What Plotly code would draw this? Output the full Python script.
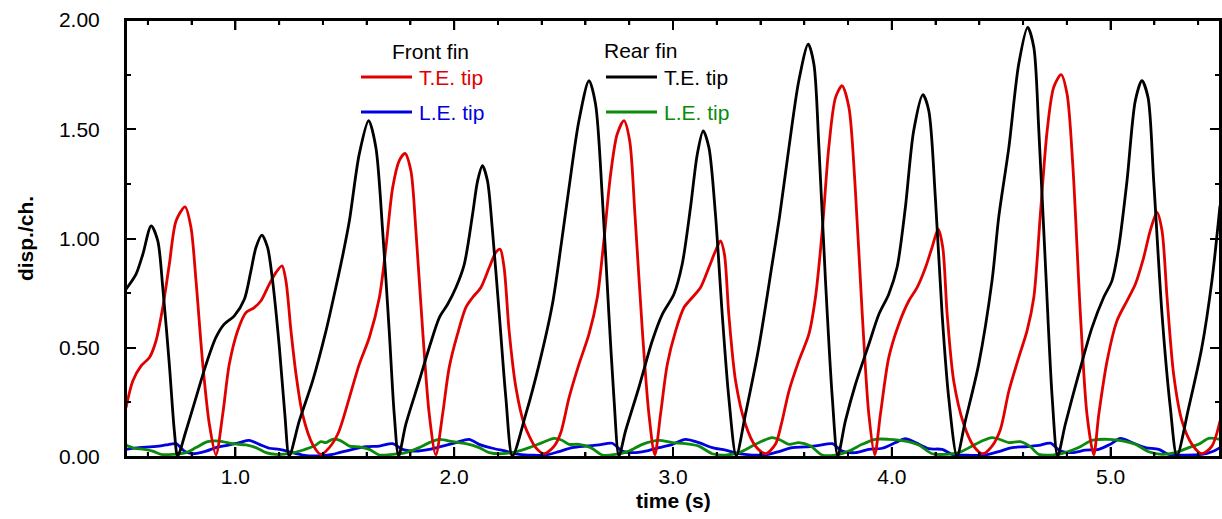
import plotly.graph_objects as go

# ---- Rear fin, trailing-edge tip (black) ----
rear_te_t = [0.500, 0.546, 0.577, 0.615, 0.645, 0.668, 0.698, 0.721, 0.736, 0.774, 0.820, 0.866, 0.911, 0.949,
             0.995, 1.041, 1.071, 1.094, 1.121, 1.147, 1.170, 1.201, 1.226, 1.246, 1.292, 1.353, 1.414, 1.459,
             1.490, 1.521, 1.566, 1.609, 1.642, 1.673, 1.703, 1.726, 1.746, 1.779, 1.840, 1.886, 1.932, 1.970,
             2.008, 2.046, 2.084, 2.107, 2.129, 2.152, 2.175, 2.206, 2.236, 2.266, 2.327, 2.388, 2.449, 2.490,
             2.525, 2.570, 2.616, 2.646, 2.677, 2.707, 2.730, 2.753, 2.783, 2.844, 2.905, 2.951, 3.004, 3.042,
             3.080, 3.111, 3.138, 3.164, 3.194, 3.225, 3.255, 3.289, 3.331, 3.392, 3.453, 3.487, 3.530, 3.575,
             3.618, 3.644, 3.667, 3.697, 3.728, 3.753, 3.788, 3.834, 3.895, 3.941, 3.986, 4.024, 4.062, 4.100,
             4.142, 4.169, 4.199, 4.230, 4.260, 4.298, 4.336, 4.397, 4.458, 4.489, 4.535, 4.580, 4.621, 4.649,
             4.672, 4.702, 4.733, 4.758, 4.793, 4.854, 4.915, 4.968, 5.006, 5.037, 5.075, 5.113, 5.143, 5.171,
             5.197, 5.235, 5.273, 5.303, 5.357, 5.417, 5.463, 5.500]
rear_te_d = [0.768, 0.837, 0.928, 1.058, 0.990, 0.776, 0.424, 0.119, 0.005, 0.119, 0.272, 0.424, 0.547, 0.608,
             0.646, 0.722, 0.852, 0.959, 1.015, 0.959, 0.806, 0.501, 0.195, 0.005, 0.165, 0.348, 0.577, 0.776,
             0.920, 1.081, 1.386, 1.539, 1.417, 1.035, 0.577, 0.195, 0.005, 0.150, 0.348, 0.501, 0.638, 0.699,
             0.776, 0.882, 1.111, 1.264, 1.333, 1.264, 1.035, 0.653, 0.272, 0.005, 0.195, 0.424, 0.700, 0.980,
             1.234, 1.539, 1.722, 1.615, 1.188, 0.653, 0.272, 0.005, 0.119, 0.318, 0.531, 0.653, 0.745, 0.882,
             1.142, 1.386, 1.493, 1.417, 1.111, 0.653, 0.272, 0.005, 0.195, 0.501, 0.882, 1.100, 1.417, 1.722,
             1.890, 1.798, 1.417, 0.806, 0.272, 0.005, 0.165, 0.333, 0.516, 0.653, 0.745, 0.867, 1.142, 1.493,
             1.658, 1.585, 1.188, 0.653, 0.272, 0.005, 0.165, 0.424, 0.806, 1.100, 1.417, 1.798, 1.966, 1.875,
             1.493, 0.882, 0.272, 0.005, 0.150, 0.379, 0.592, 0.730, 0.806, 0.959, 1.264, 1.631, 1.722, 1.646,
             1.264, 0.653, 0.226, 0.005, 0.226, 0.501, 0.806, 1.150]

# ---- Front fin, trailing-edge tip (red) ----
front_te_t = [0.500, 0.531, 0.569, 0.607, 0.637, 0.668, 0.698, 0.729, 0.770, 0.797, 0.820, 0.851, 0.881, 0.911,
              0.942, 0.972, 1.010, 1.048, 1.086, 1.117, 1.155, 1.185, 1.213, 1.231, 1.254, 1.277, 1.307, 1.353,
              1.391, 1.429, 1.470, 1.521, 1.566, 1.612, 1.658, 1.688, 1.719, 1.749, 1.775, 1.802, 1.825, 1.856,
              1.886, 1.916, 1.947, 1.977, 2.015, 2.053, 2.084, 2.122, 2.160, 2.190, 2.210, 2.228, 2.251, 2.282,
              2.320, 2.373, 2.411, 2.457, 2.487, 2.525, 2.570, 2.616, 2.654, 2.684, 2.715, 2.745, 2.776, 2.802,
              2.826, 2.860, 2.890, 2.917, 2.943, 2.974, 3.012, 3.050, 3.088, 3.126, 3.164, 3.194, 3.217, 3.235,
              3.255, 3.286, 3.331, 3.377, 3.423, 3.468, 3.495, 3.530, 3.575, 3.621, 3.651, 3.682, 3.712, 3.743,
              3.773, 3.804, 3.831, 3.865, 3.895, 3.922, 3.948, 3.986, 4.032, 4.078, 4.116, 4.154, 4.184, 4.212,
              4.233, 4.253, 4.283, 4.329, 4.374, 4.416, 4.458, 4.496, 4.535, 4.580, 4.618, 4.649, 4.679, 4.710,
              4.740, 4.774, 4.801, 4.827, 4.862, 4.892, 4.923, 4.946, 4.984, 5.029, 5.075, 5.113, 5.151, 5.181,
              5.212, 5.235, 5.258, 5.288, 5.326, 5.372, 5.417, 5.463, 5.500]
front_te_d = [0.226, 0.348, 0.417, 0.455, 0.531, 0.684, 0.882, 1.081, 1.145, 1.050, 0.806, 0.424, 0.150, 0.010,
              0.195, 0.424, 0.577, 0.661, 0.684, 0.715, 0.791, 0.844, 0.875, 0.806, 0.577, 0.379, 0.195, 0.058,
              0.012, 0.043, 0.110, 0.272, 0.424, 0.547, 0.730, 0.959, 1.234, 1.356, 1.389, 1.310, 1.035, 0.577,
              0.195, 0.010, 0.195, 0.409, 0.562, 0.684, 0.730, 0.776, 0.867, 0.936, 0.951, 0.867, 0.577, 0.318,
              0.150, 0.043, 0.015, 0.050, 0.111, 0.272, 0.424, 0.562, 0.730, 0.989, 1.295, 1.478, 1.539, 1.447,
              1.111, 0.577, 0.195, 0.010, 0.195, 0.424, 0.577, 0.684, 0.730, 0.776, 0.867, 0.943, 0.989, 0.928,
              0.653, 0.348, 0.150, 0.050, 0.015, 0.058, 0.150, 0.302, 0.440, 0.562, 0.730, 1.035, 1.417, 1.646,
              1.699, 1.600, 1.264, 0.653, 0.195, 0.010, 0.195, 0.455, 0.608, 0.715, 0.776, 0.867, 0.959, 1.043,
              0.959, 0.653, 0.348, 0.150, 0.050, 0.015, 0.050, 0.125, 0.302, 0.455, 0.577, 0.730, 1.111, 1.493,
              1.692, 1.750, 1.661, 1.340, 0.653, 0.195, 0.010, 0.195, 0.440, 0.623, 0.715, 0.791, 0.913, 1.035,
              1.119, 1.035, 0.730, 0.379, 0.165, 0.058, 0.015, 0.050, 0.165]

# ---- Front fin, leading-edge tip (blue) ----
front_le_t = [0.500, 0.561, 0.622, 0.683, 0.729, 0.767, 0.805, 0.866, 0.911, 0.972, 1.018, 1.064, 1.109, 1.155,
              1.201, 1.246, 1.307, 1.383, 1.444, 1.475, 1.536, 1.597, 1.658, 1.719, 1.764, 1.825, 1.886, 1.947,
              2.008, 2.068, 2.114, 2.175, 2.236, 2.297, 2.358, 2.419, 2.479, 2.540, 2.601, 2.662, 2.722, 2.768,
              2.814, 2.875, 2.936, 2.997, 3.057, 3.118, 3.179, 3.240, 3.301, 3.362, 3.423, 3.484, 3.545, 3.606,
              3.667, 3.728, 3.773, 3.834, 3.895, 3.956, 4.017, 4.062, 4.108, 4.169, 4.230, 4.275, 4.352, 4.428,
              4.489, 4.550, 4.611, 4.672, 4.725, 4.771, 4.824, 4.885, 4.946, 4.999, 5.045, 5.098, 5.159, 5.220,
              5.265, 5.341, 5.417, 5.463, 5.500]
front_le_d = [0.035, 0.043, 0.047, 0.055, 0.061, 0.027, 0.015, 0.027, 0.043, 0.055, 0.066, 0.076, 0.058, 0.040,
              0.035, 0.024, 0.009, 0.005, 0.012, 0.020, 0.035, 0.047, 0.050, 0.061, 0.035, 0.027, 0.035, 0.050,
              0.066, 0.081, 0.058, 0.040, 0.027, 0.012, 0.008, 0.009, 0.025, 0.043, 0.050, 0.055, 0.063, 0.027,
              0.020, 0.027, 0.043, 0.058, 0.081, 0.066, 0.043, 0.031, 0.015, 0.009, 0.009, 0.025, 0.043, 0.046,
              0.053, 0.061, 0.027, 0.020, 0.035, 0.040, 0.066, 0.084, 0.066, 0.038, 0.035, 0.012, 0.008, 0.009,
              0.025, 0.043, 0.047, 0.053, 0.063, 0.027, 0.020, 0.031, 0.035, 0.058, 0.085, 0.066, 0.043, 0.035,
              0.012, 0.009, 0.012, 0.024, 0.043]

# ---- Rear fin, leading-edge tip (green) ----
rear_le_t = [0.500, 0.538, 0.584, 0.622, 0.660, 0.714, 0.774, 0.820, 0.873, 0.927, 0.988, 1.048, 1.094, 1.140,
             1.185, 1.246, 1.307, 1.360, 1.391, 1.414, 1.444, 1.480, 1.521, 1.566, 1.612, 1.658, 1.719, 1.779,
             1.840, 1.886, 1.932, 1.993, 2.053, 2.114, 2.160, 2.221, 2.282, 2.343, 2.403, 2.457, 2.490, 2.525,
             2.570, 2.624, 2.677, 2.738, 2.799, 2.860, 2.936, 2.997, 3.057, 3.118, 3.179, 3.240, 3.301, 3.362,
             3.408, 3.453, 3.490, 3.530, 3.575, 3.629, 3.682, 3.743, 3.804, 3.864, 3.925, 3.986, 4.062, 4.123,
             4.184, 4.245, 4.306, 4.367, 4.412, 4.458, 4.495, 4.535, 4.588, 4.634, 4.672, 4.733, 4.793, 4.854,
             4.915, 4.991, 5.060, 5.113, 5.174, 5.235, 5.296, 5.357, 5.402, 5.448, 5.500]
rear_le_d = [0.055, 0.040, 0.035, 0.027, 0.012, 0.012, 0.020, 0.043, 0.070, 0.073, 0.061, 0.055, 0.043, 0.020,
             0.012, 0.015, 0.031, 0.050, 0.070, 0.066, 0.081, 0.075, 0.050, 0.046, 0.035, 0.009, 0.012, 0.020,
             0.043, 0.066, 0.081, 0.070, 0.061, 0.043, 0.020, 0.015, 0.024, 0.043, 0.066, 0.085, 0.078, 0.058,
             0.058, 0.043, 0.009, 0.012, 0.027, 0.058, 0.076, 0.066, 0.061, 0.050, 0.015, 0.009, 0.020, 0.050,
             0.073, 0.089, 0.078, 0.058, 0.066, 0.050, 0.009, 0.009, 0.027, 0.058, 0.081, 0.081, 0.073, 0.055,
             0.015, 0.012, 0.020, 0.050, 0.073, 0.089, 0.080, 0.066, 0.070, 0.046, 0.012, 0.009, 0.020, 0.043,
             0.076, 0.081, 0.073, 0.058, 0.024, 0.012, 0.020, 0.043, 0.058, 0.085, 0.081]

# axis tick values
x_major_ticks = [1, 2, 3, 4, 5]
x_major_labels = ["1.0", "2.0", "3.0", "4.0", "5.0"]
x_minor_ticks = [0.6, 0.8, 1.2, 1.4, 1.6, 1.8, 2.2, 2.4, 2.6, 2.8, 3.2, 3.4, 3.6, 3.8,
                 4.2, 4.4, 4.6, 4.8, 5.2, 5.4]
y_major_ticks = [0, 0.5, 1.0, 1.5, 2.0]
y_major_labels = ["0.00", "0.50", "1.00", "1.50", "2.00"]
y_minor_ticks = [0.25, 0.75, 1.25, 1.75]

RED = "#e10000"
BLACK = "#000000"
BLUE = "#0000e0"
GREEN = "#0b8a0b"
FONT = "Liberation Sans, Arial, sans-serif"
FS = 21

fig = go.Figure()
for t, d, c in [(front_le_t, front_le_d, BLUE), (rear_le_t, rear_le_d, GREEN),
                (front_te_t, front_te_d, RED), (rear_te_t, rear_te_d, BLACK)]:
    fig.add_trace(go.Scatter(x=t, y=d, mode="lines", showlegend=False,
                             line=dict(color=c, width=2.8, shape="spline", smoothing=0.8)))

# plot area in pixels: x 126..1220, y 20..457
L, R, T, B = 126, 1220, 20, 457
PLOT_H = B - T


def px(xp):
    return (xp - L) / (R - L)


def py(yp):
    return (B - yp) / (B - T)


# plot frame
fig.add_shape(type="rect", xref="paper", yref="paper", x0=0, x1=1, y0=0, y1=1,
              line=dict(color="black", width=2), fillcolor="rgba(0,0,0,0)", layer="above")

# time-axis ticks (inside, bottom and top), placed at the axis tick values
for vals, ln in [(x_major_ticks, 10), (x_minor_ticks, 5)]:
    for v in vals:
        for y0, y1 in [(0, ln / PLOT_H), (1, 1 - ln / PLOT_H)]:
            fig.add_shape(type="line", xref="x", yref="paper", x0=v, x1=v, y0=y0, y1=y1,
                          line=dict(color="black", width=2), layer="above")

legend_items = [
    (361, 412, 77, RED, "T.E. tip", 417),
    (361, 412, 112, BLUE, "L.E. tip", 417),
    (606, 657, 77, BLACK, "T.E. tip", 662),
    (606, 657, 112, GREEN, "L.E. tip", 662),
]
for x0, x1, yy, c, txt, tx in legend_items:
    fig.add_shape(type="line", xref="paper", yref="paper", x0=px(x0), x1=px(x1), y0=py(yy), y1=py(yy),
                  line=dict(color=c, width=3))
    fig.add_annotation(xref="paper", yref="paper", x=px(tx), y=py(yy), text=txt, showarrow=False,
                       xanchor="left", yanchor="middle", font=dict(family=FONT, size=FS, color=c))
for txt, cx, cy in [("Front fin", 430, 51), ("Rear fin", 641, 50)]:
    fig.add_annotation(xref="paper", yref="paper", x=px(cx), y=py(cy), text=txt, showarrow=False,
                       xanchor="center", yanchor="middle", font=dict(family=FONT, size=FS, color="black"))
# x-axis title
fig.add_annotation(xref="paper", yref="paper", x=px(673), y=py(500), text="<b>time (s)</b>", showarrow=False,
                   xanchor="center", yanchor="middle", font=dict(family=FONT, size=FS, color="black"))

fig.update_xaxes(range=[0.5, 5.5], tickmode="array", tickvals=x_major_ticks, ticktext=x_major_labels,
                 showline=True, linecolor="black", linewidth=2, mirror="ticks", ticks="inside",
                 tickcolor="black", tickwidth=2, ticklen=10, showgrid=False, zeroline=False,
                 layer="above traces", side="bottom",
                 tickfont=dict(family=FONT, size=FS, color="black"),
                 minor=dict(tickmode="array", tickvals=x_minor_ticks, ticks="inside", ticklen=5,
                            tickwidth=2, tickcolor="black"))
fig.update_yaxes(range=[0, 2.0], tickmode="array", tickvals=y_major_ticks, ticktext=y_major_labels,
                 showline=True, linecolor="black", linewidth=2, mirror="allticks", ticks="inside",
                 tickcolor="black", tickwidth=2, ticklen=10, showgrid=False, zeroline=False,
                 tickfont=dict(family=FONT, size=FS, color="black"),
                 ticklabelstandoff=20,
                 minor=dict(tickmode="array", tickvals=y_minor_ticks, ticks="inside", ticklen=5,
                            tickwidth=2, tickcolor="black"),
                 title=dict(text="<b>disp./ch.</b>", font=dict(family=FONT, size=FS, color="black"), standoff=20))

fig.update_layout(width=1222, height=519, plot_bgcolor="white", paper_bgcolor="white",
                  margin=dict(l=L, r=1222 - R, t=T, b=519 - B, autoexpand=False),
                  showlegend=False, font=dict(family=FONT))

fig.write_html("out.html", post_script="document.body.style.margin='0';",
               config={"displayModeBar": False})
